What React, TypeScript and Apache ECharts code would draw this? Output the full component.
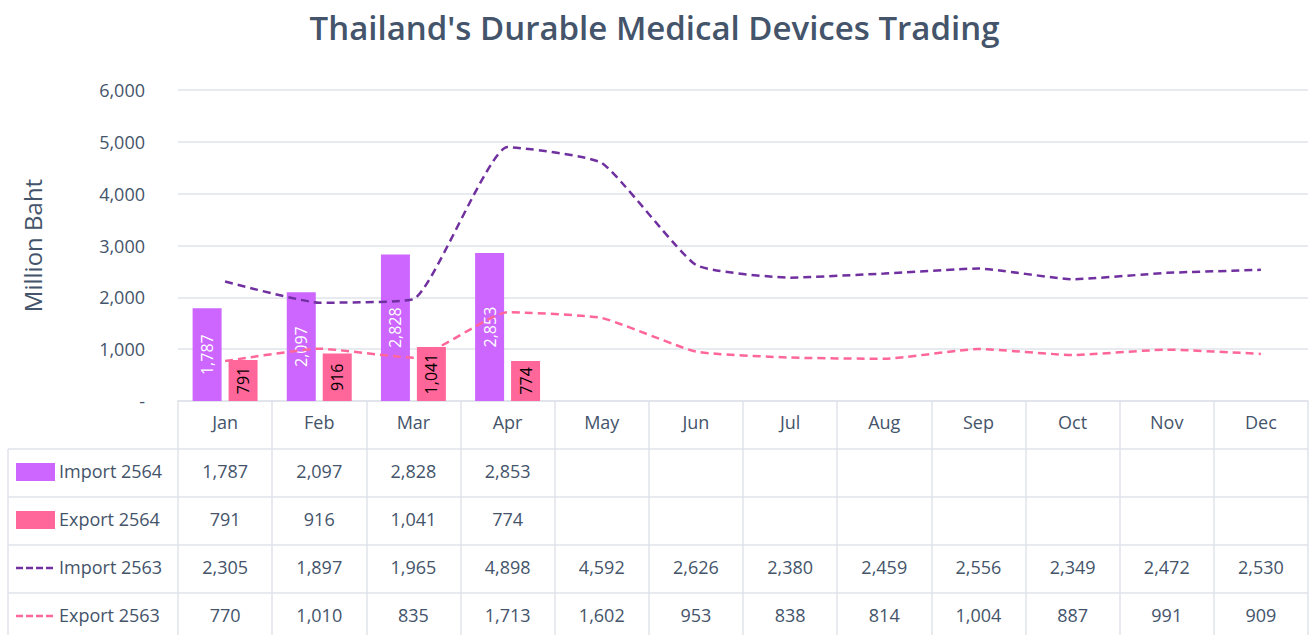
import React, { useEffect, useRef } from "react";
import * as echarts from "echarts";

const months = ["Jan", "Feb", "Mar", "Apr", "May", "Jun", "Jul", "Aug", "Sep", "Oct", "Nov", "Dec"];
const import2564 = [1787, 2097, 2828, 2853];
const export2564 = [791, 916, 1041, 774];
const import2563 = [2305, 1897, 1965, 4898, 4592, 2626, 2380, 2459, 2556, 2349, 2472, 2530];
const export2563 = [770, 1010, 835, 1713, 1602, 953, 838, 814, 1004, 887, 991, 909];
const seriesNames = ["Import 2564", "Export 2564", "Import 2563", "Export 2563"];

const TEXT = "#44546a";
const GRID = "#dfe3ea";
const PURPLE_BAR = "#cc66ff";
const PINK = "#ff6699";
const PURPLE_LINE = "#7030a0";
const FONT = "'Open Sans', 'Noto Sans', sans-serif";

const fmt = (v: number) => v.toLocaleString("en-US");

export default function App() {
  const ref = useRef<HTMLDivElement>(null);
  useEffect(() => {
    document.body.style.margin = "0";
    const chart = echarts.init(ref.current!, null, { renderer: "svg" });
    const pad = (arr: number[]) => months.map((_, i) => (i < arr.length ? arr[i] : null));
    chart.setOption({
      animation: false,
      backgroundColor: "#ffffff",
      textStyle: { fontFamily: FONT },
      title: {
        text: "Thailand's Durable Medical Devices Trading",
        left: "center",
        top: 6,
        textStyle: { fontFamily: FONT, fontSize: 33, fontWeight: 600, color: TEXT },
      },
      grid: { left: 178, right: 1, top: 90, bottom: 234 },
      xAxis: {
        type: "category",
        data: months,
        boundaryGap: true,
        axisLine: { show: true, lineStyle: { color: GRID, width: 1.5 } },
        axisTick: { show: true, length: 234, lineStyle: { color: GRID, width: 1.5 } },
        axisLabel: { margin: 12, fontSize: 18, color: TEXT, fontFamily: FONT },
      },
      yAxis: {
        type: "value",
        min: 0,
        max: 6000,
        interval: 1000,
        name: "Million Baht",
        nameLocation: "middle",
        nameGap: 134,
        nameTextStyle: { fontSize: 24, color: TEXT, fontFamily: FONT },
        axisLine: { show: false },
        axisTick: { show: false },
        splitLine: { lineStyle: { color: GRID, width: 1.5 } },
        axisLabel: {
          margin: 33,
          fontSize: 18,
          color: TEXT,
          fontFamily: FONT,
          formatter: (v: number) => (v === 0 ? "-" : fmt(v)),
        },
      },
      series: [
        {
          name: seriesNames[0],
          type: "bar",
          data: pad(import2564),
          barWidth: 29,
          barGap: "24%",
          itemStyle: { color: PURPLE_BAR },
          label: {
            show: true,
            position: "inside",
            rotate: 90,
            color: "#ffffff",
            fontSize: 16,
            fontFamily: FONT,
            formatter: (p: any) => fmt(p.value),
          },
        },
        {
          name: seriesNames[1],
          type: "bar",
          data: pad(export2564),
          barWidth: 29,
          itemStyle: { color: PINK },
          label: {
            show: true,
            position: "inside",
            rotate: 90,
            color: "#000000",
            fontSize: 16,
            fontFamily: FONT,
            formatter: (p: any) => fmt(p.value),
          },
        },
        {
          name: seriesNames[2],
          type: "line",
          data: import2563,
          smooth: 0.15,
          symbol: "none",
          z: 5,
          lineStyle: { color: PURPLE_LINE, width: 2.5, type: [8, 5] },
        },
        {
          name: seriesNames[3],
          type: "line",
          data: export2563,
          smooth: 0.15,
          symbol: "none",
          z: 5,
          lineStyle: { color: PINK, width: 2.5, type: [8, 5] },
        },
      ],
    });

    const baseY = chart.convertToPixel({ yAxisIndex: 0 }, 0) as number;
    const rowH = 48;
    const headerBottom = baseY + rowH;
    const leftX = 8;
    const rightX = chart.convertToPixel({ xAxisIndex: 0 }, months.length - 1) as number;
    const firstX = chart.convertToPixel({ xAxisIndex: 0 }, 0) as number;
    const half = (rightX - firstX) / (months.length - 1) / 2;
    const endX = rightX + half;
    const rows = [import2564, export2564, import2563, export2563];
    const graphics: any[] = [];
    for (let r = 0; r <= rows.length; r++) {
      const y = headerBottom + r * rowH;
      graphics.push({
        type: "line",
        shape: { x1: leftX, y1: y, x2: endX, y2: y },
        style: { stroke: GRID, lineWidth: 1.5 },
      });
    }
    graphics.push({
      type: "line",
      shape: { x1: leftX, y1: headerBottom, x2: leftX, y2: headerBottom + rows.length * rowH },
      style: { stroke: GRID, lineWidth: 1.5 },
    });
    rows.forEach((arr, r) => {
      const cy = headerBottom + r * rowH + rowH / 2 - 2;
      if (r < 2) {
        graphics.push({
          type: "rect",
          shape: { x: 16, y: cy - 8, width: 39, height: 18 },
          style: { fill: r === 0 ? PURPLE_BAR : PINK },
        });
      } else {
        graphics.push({
          type: "line",
          shape: { x1: 16, y1: cy + 1, x2: 55, y2: cy + 1 },
          style: { stroke: r === 2 ? PURPLE_LINE : PINK, lineWidth: 2.5, lineDash: [7, 3] },
        });
      }
      graphics.push({
        type: "text",
        x: 59,
        y: cy,
        style: { text: seriesNames[r], fontSize: 18, fill: TEXT, fontFamily: FONT, verticalAlign: "middle", align: "left" },
      });
      arr.forEach((v, i) => {
        const x = chart.convertToPixel({ xAxisIndex: 0 }, i) as number;
        graphics.push({
          type: "text",
          x,
          y: cy,
          style: { text: fmt(v), fontSize: 18, fill: TEXT, fontFamily: FONT, verticalAlign: "middle", align: "center" },
        });
      });
    });
    chart.setOption({ graphic: graphics });
    return () => chart.dispose();
  }, []);
  return <div ref={ref} style={{ width: 1309, height: 635 }} />;
}
